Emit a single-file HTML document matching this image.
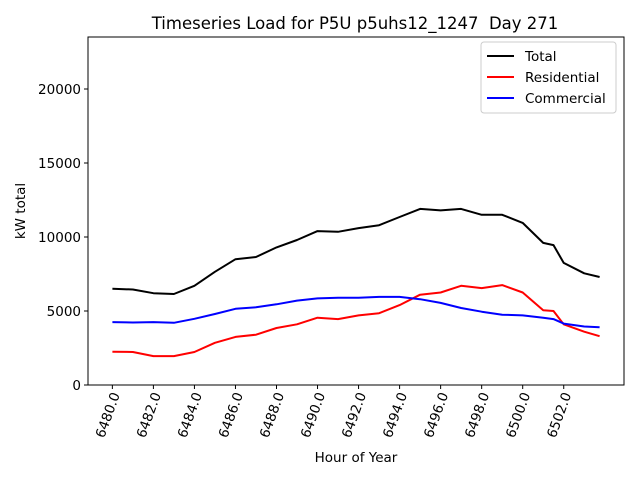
<!DOCTYPE html>
<html><head><meta charset="utf-8"><style>
body{margin:0;background:#fff}
svg{display:block;font-family:"DejaVu Sans","Liberation Sans",sans-serif}
</style></head><body>
<svg id="chart" width="640" height="480">
<rect width="640" height="480" fill="#fff"/>
<text x="355" y="29" font-size="16.5" text-anchor="middle" style="white-space:pre">Timeseries Load for P5U p5uhs12_1247  Day 271</text>
<g id="plot"></g>
<text x="356" y="462" font-size="13.5" text-anchor="middle">Hour of Year</text>
<text transform="translate(25,211) rotate(-90)" font-size="13.5" text-anchor="middle">kW total</text>
</svg>
<script>
const hours=[0,1,2,3,4,5,6,7,8,9,10,11,12,13,14,15,16,17,18,19,20,21,21.5,22,23,23.75];
const total=[6500,6450,6200,6150,6700,7650,8500,8650,9300,9800,10400,10350,10600,10800,11350,11900,11800,11900,11500,11500,10950,9600,9450,8250,7550,7300];
const residential=[2250,2230,1950,1950,2230,2850,3250,3400,3850,4100,4550,4450,4700,4850,5400,6100,6250,6700,6550,6750,6250,5050,5000,4100,3600,3300];
const commercial=[4250,4220,4250,4200,4470,4800,5150,5250,5450,5700,5850,5900,5900,5950,5950,5800,5550,5200,4950,4750,4700,4550,4450,4150,3950,3900];
const xTicks=[6480,6482,6484,6486,6488,6490,6492,6494,6496,6498,6500,6502];
const yTicks=[0,5000,10000,15000,20000];
const seriesNames=["Total","Residential","Commercial"];
const baseHour=6480;

const L=88,R=624,T=37,B=385;
const xMin=6478.8125,xMax=6504.9375,yMin=0,yMax=23514;
const X=v=>L+(v-xMin)/(xMax-xMin)*(R-L);
const Y=v=>B-(v-yMin)/(yMax-yMin)*(B-T);
const NS="http://www.w3.org/2000/svg";
const g=document.getElementById('plot');
function mk(t,a){const e=document.createElementNS(NS,t);for(const k in a)e.setAttribute(k,a[k]);g.appendChild(e);return e;}

const series=[[total,'#000'],[residential,'#f00'],[commercial,'#00f']];
series.forEach((s,i)=>{
  const d=hours.map((h,j)=>(j?'L':'M')+X(baseHour+h).toFixed(1)+','+Y(s[0][j]).toFixed(1)).join(' ');
  const p=mk('path',{d:d,fill:'none',stroke:s[1],'stroke-width':2,'stroke-linejoin':'round'});
  
  
});

const frame=mk('rect',{x:L,y:T,width:R-L,height:B-T,fill:'none',stroke:'#000','stroke-width':1});



xTicks.forEach(v=>{
  const x=X(v);
  const t=mk('line',{x1:x,x2:x,y1:B,y2:B+4,stroke:'#000'});
  
  
  const tx=mk('text',{transform:`translate(${x+4},${B+8}) rotate(-70)`,'font-size':13.5,'text-anchor':'end','dominant-baseline':'middle'});
  tx.textContent=v.toFixed(1);
  
  
});
yTicks.forEach(v=>{
  const y=Y(v);
  const t=mk('line',{x1:L-4,x2:L,y1:y,y2:y,stroke:'#000'});
  
  
  const tx=mk('text',{x:L-7,y:y+5,'font-size':13.5,'text-anchor':'end'});
  tx.textContent=v;
  
  
});

const lg=mk('rect',{x:481,y:42,width:135,height:71,rx:3,fill:'#fff','fill-opacity':0.8,stroke:'#ccc'});


series.forEach((s,i)=>{
  const y=56+i*21;
  const l=mk('line',{x1:487,x2:514,y1:y,y2:y,stroke:s[1],'stroke-width':2});
  
  
  const t=mk('text',{x:525,y:y+5,'font-size':13.5});
  t.textContent=seriesNames[i];
  
  
});
</script>
</body></html>
